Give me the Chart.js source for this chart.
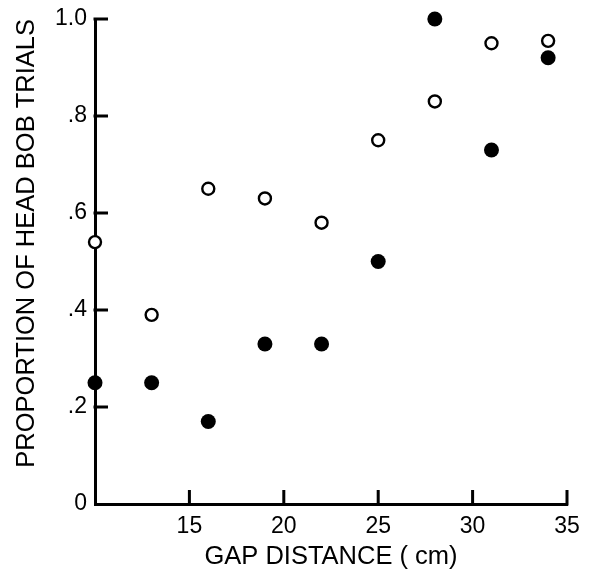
<!DOCTYPE html>
<html>
<head>
<meta charset="utf-8">
<title>Head bob trials vs gap distance</title>
<script src="https://cdn.jsdelivr.net/npm/chart.js@4/dist/chart.umd.min.js"></script>
<style>
  html, body { margin: 0; padding: 0; background: #ffffff; }
  #wrap { width: 594px; height: 577px; position: relative; }
</style>
</head>
<body>
<div id="wrap"><canvas id="chart" width="594" height="577"></canvas></div>
<script>
// Gap distances (cm) at which trials were run
const gapDistance = [10, 13, 16, 19, 22, 25, 28, 31, 34];
// Proportion of head bob trials, open-circle series
const openValues = [0.54, 0.39, 0.65, 0.63, 0.58, 0.75, 0.83, 0.95, 0.955];
// Proportion of head bob trials, filled-circle series
const filledValues = [0.25, 0.25, 0.17, 0.33, 0.33, 0.50, 1.00, 0.73, 0.92];

// Axis tick values and their printed labels
const xTickValues = [15, 20, 25, 30, 35];
const xTickLabels = ['15', '20', '25', '30', '35'];
const yTickValues = [0, 0.2, 0.4, 0.6, 0.8, 1.0];
const yTickLabels = ['0', '.2', '.4', '.6', '.8', '1.0'];

const FONT = '"Liberation Sans", Arial, Helvetica, sans-serif';
const X_TICK_LEN = 14;   // tick marks point up into the plot
const Y_TICK_LEN = 13;   // tick marks point right into the plot

function toPoints(values) {
  return gapDistance.map((x, i) => ({ x: x, y: values[i] }));
}

// Short tick marks drawn on the inside of both axes
const innerTicks = {
  id: 'innerTicks',
  afterDraw(chart) {
    const ctx = chart.ctx;
    const xs = chart.scales.x;
    const ys = chart.scales.y;
    const x0 = xs.getPixelForValue(10);
    const y0 = ys.getPixelForValue(0);
    ctx.save();
    ctx.fillStyle = '#000';
    yTickValues.forEach(v => {
      if (v === 0) return;
      const py = ys.getPixelForValue(v);
      ctx.fillRect(x0 - 1.5, py - 1.5, Y_TICK_LEN + 1.5, 3);
    });
    xTickValues.forEach(v => {
      const px = xs.getPixelForValue(v);
      ctx.fillRect(px - 1.5, y0 - X_TICK_LEN, 3, X_TICK_LEN + 1.5);
    });
    ctx.restore();
  }
};

// Keep the plot frame where the layout padding puts it
function noLabelPadding(scale) {
  scale.paddingTop = 0;
  scale.paddingBottom = 0;
  scale.paddingLeft = 0;
  scale.paddingRight = 0;
}

new Chart(document.getElementById('chart'), {
  type: 'scatter',
  data: {
    datasets: [
      {
        label: 'open',
        data: toPoints(openValues),
        pointRadius: 6,
        pointHoverRadius: 6,
        pointBorderWidth: 2.4,
        pointBorderColor: '#000',
        pointBackgroundColor: '#fff',
        clip: false
      },
      {
        label: 'filled',
        data: toPoints(filledValues),
        pointRadius: 7.5,
        pointHoverRadius: 7.5,
        pointBorderWidth: 0,
        pointBorderColor: '#000',
        pointBackgroundColor: '#000',
        clip: false
      }
    ]
  },
  options: {
    responsive: false,
    animation: false,
    events: [],
    layout: { padding: { left: 0, right: 27, top: 19, bottom: 0 } },
    plugins: {
      legend: { display: false },
      tooltip: { enabled: false }
    },
    scales: {
      x: {
        type: 'linear',
        min: 10,
        max: 35,
        afterFit(scale) { scale.height = 73; noLabelPadding(scale); },
        afterBuildTicks(scale) {
          scale.ticks = [10].concat(xTickValues).map(v => ({ value: v }));
        },
        grid: { display: false, drawTicks: false },
        border: { display: true, color: '#000', width: 3 },
        ticks: {
          padding: 9,
          color: '#000',
          font: { family: FONT, size: 23 },
          maxRotation: 0,
          callback(value) {
            const i = xTickValues.indexOf(value);
            return i >= 0 ? xTickLabels[i] : '';
          }
        },
        title: {
          display: true,
          text: 'GAP DISTANCE ( cm)',
          color: '#000',
          font: { family: FONT, size: 25.5 },
          padding: { top: 0, bottom: 5 }
        }
      },
      y: {
        type: 'linear',
        min: 0,
        max: 1,
        afterFit(scale) { scale.width = 95; noLabelPadding(scale); },
        afterBuildTicks(scale) {
          scale.ticks = yTickValues.map(v => ({ value: v }));
        },
        grid: { display: false, drawTicks: false },
        border: { display: true, color: '#000', width: 3 },
        ticks: {
          padding: 8,
          color: '#000',
          font: { family: FONT, size: 23 },
          callback(value) {
            const i = yTickValues.findIndex(v => Math.abs(v - value) < 1e-6);
            return i >= 0 ? yTickLabels[i] : '';
          }
        },
        title: {
          display: true,
          text: 'PROPORTION OF HEAD BOB TRIALS',
          align: 'end',
          color: '#000',
          font: { family: FONT, size: 25.5 },
          padding: { top: 12, bottom: 0 }
        }
      }
    }
  },
  plugins: [innerTicks]
});
</script>
</body>
</html>
